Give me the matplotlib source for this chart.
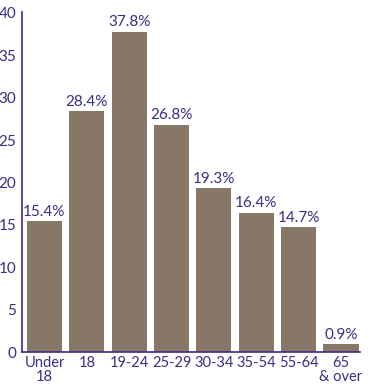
import matplotlib.pyplot as plt

# age groups and share of respondents (%)
categories = ["Under\n18", "18", "19-24", "25-29", "30-34", "35-54", "55-64", "65\n& over"]
values = [15.4, 28.4, 37.8, 26.8, 19.3, 16.4, 14.7, 0.9]
yticks = [0, 5, 10, 15, 20, 25, 30, 35, 40]

bar_color = "#877766"
text_color = "#3f2a85"

plt.rcParams["font.family"] = ["Lato", "DejaVu Sans"]

fig = plt.figure(figsize=(3.73, 3.91), dpi=100)
ax = fig.add_axes([22 / 373, 1 - 352 / 391, 338 / 373, 340 / 391])

x = list(range(len(categories)))
bars = ax.bar(x, values, width=0.83, color=bar_color)

for xi, v in zip(x, values):
    ax.text(xi, v + 0.3, f"{v}%", ha="center", va="bottom",
            fontsize=11, color=text_color)

ax.set_xlim(-0.53, 7.45)
ax.set_ylim(0, 40.1)
ax.set_yticks(yticks)
ax.set_xticks(x)
ax.set_xticklabels(categories, fontsize=10.5, color=text_color, linespacing=1.0)
ax.tick_params(axis="y", length=0, pad=4, labelsize=11, labelcolor=text_color)
ax.tick_params(axis="x", length=0, pad=3)

for s in ["top", "right"]:
    ax.spines[s].set_visible(False)
for s in ["left", "bottom"]:
    ax.spines[s].set_color(text_color)
    ax.spines[s].set_linewidth(1.2)

fig.savefig("out.png", dpi=100)
